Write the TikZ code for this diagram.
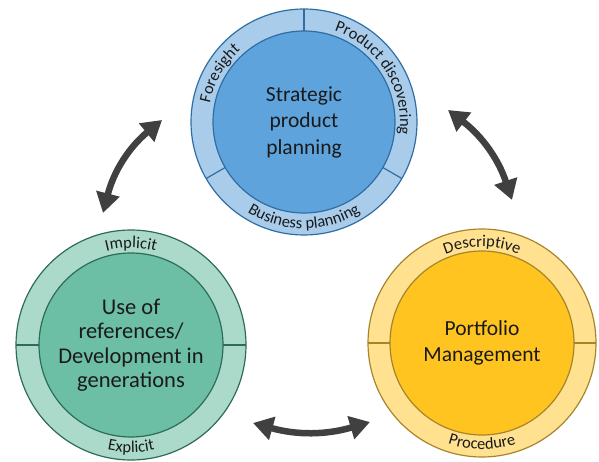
\documentclass[tikz,border=0pt]{standalone}
\usepackage{fontspec}
\setmainfont{Carlito}
\usetikzlibrary{arrows.meta,decorations.text,calc}

% palette
\definecolor{blueRing}{HTML}{A9CCEB}
\definecolor{blueCore}{HTML}{5FA3DC}
\definecolor{blueLine}{HTML}{2F6EA5}
\definecolor{greenRing}{HTML}{ABDACB}
\definecolor{greenCore}{HTML}{6CBFA4}
\definecolor{greenLine}{HTML}{2E6B58}
\definecolor{yellowRing}{HTML}{FFE190}
\definecolor{yellowCore}{HTML}{FFC41F}
\definecolor{yellowLine}{HTML}{A6852A}
\definecolor{arrowGray}{HTML}{404040}
\definecolor{txt}{HTML}{1A1A1A}

\newcommand\corefont{\fontsize{21.5}{26.5}\selectfont}
\newcommand\ringfont{\fontsize{16.5}{19}\selectfont}

\tikzset{
  ring/.style={circle, draw, line width=1.2pt, inner sep=0pt, outer sep=0pt, minimum size=#1},
  core/.style={circle, draw, line width=1.2pt, inner sep=0pt, outer sep=0pt,
    minimum size=#1, align=center, font=\corefont, text=txt},
  divider/.style={line width=1.2pt},
  ringtext/.style={decorate, decoration={text along path, text align=center,
    text color=txt, text={|\ringfont|#1}}},
  cycle arrow/.style={line width=6.5pt, draw=arrowGray,
    {Triangle[length=20pt,width=23pt]}-{Triangle[length=20pt,width=23pt]}}
}

\begin{document}
\begin{tikzpicture}[x=1pt,y=1pt]
  \useasboundingbox (0,0) rectangle (599,461);

  % --- strategic product planning (top)
  \node[ring=226pt, draw=blueLine, fill=blueRing] (sppring) at (304,339) {};
  \node[core=182pt, draw=blueLine, fill=blueCore] (spp) at (304,339)
    {Strategic\\product\\planning};
  \foreach \a in {90,-30,210}
    \draw[divider, blueLine] (spp.\a) -- (sppring.\a);
  \path[ringtext={Foresight}] ($(spp.center)+(205:96)$) arc[start angle=205, end angle=95, radius=96];
  \path[ringtext={Product discovering}] ($(spp.center)+(94:96)$) arc[start angle=94, end angle=-30, radius=96];
  \path[ringtext={Business planning}] ($(spp.center)+(222:106.5)$) arc[start angle=222, end angle=318, radius=106.5];

  % --- use of references (left)
  \node[ring=230pt, draw=greenLine, fill=greenRing] (refring) at (131,116) {};
  \node[core=184pt, draw=greenLine, fill=greenCore, font=\fontsize{22.5}{24.5}\selectfont] (ref) at (131,116)
    {Use of\\references/\\Development in\\generations};
  \foreach \a in {0,180}
    \draw[divider, greenLine] (ref.\a) -- (refring.\a);
  \path[ringtext={Implicit}] ($(ref.center)+(135:97)$) arc[start angle=135, end angle=45, radius=97];
  \path[ringtext={Explicit}] ($(ref.center)+(225:107.5)$) arc[start angle=225, end angle=315, radius=107.5];

  % --- portfolio management (right)
  \node[ring=228pt, draw=yellowLine, fill=yellowRing] (pmring) at (482,118) {};
  \node[core=184pt, draw=yellowLine, fill=yellowCore] (pm) at (482,118)
    {Portfolio\\Management};
  \foreach \a in {0,180}
    \draw[divider, yellowLine] (pm.\a) -- (pmring.\a);
  \path[ringtext={Descriptive}] ($(pm.center)+(135:96)$) arc[start angle=135, end angle=45, radius=96];
  \path[ringtext={Procedure}] ($(pm.center)+(225:106.5)$) arc[start angle=225, end angle=315, radius=106.5];

  % --- connecting double arrows
  \coordinate (a1) at (103,248);
  \coordinate (b1) at (162,341);
  \coordinate (a2) at (448,351);
  \coordinate (b2) at (512,261);
  \coordinate (a3) at (253,38);
  \coordinate (b3) at (370,39);
  \draw[cycle arrow] (a1) to[bend left=18] (b1);
  \draw[cycle arrow] (a2) to[bend left=17] (b2);
  \draw[cycle arrow] (a3) to[bend right=16] (b3);
\end{tikzpicture}
\end{document}
